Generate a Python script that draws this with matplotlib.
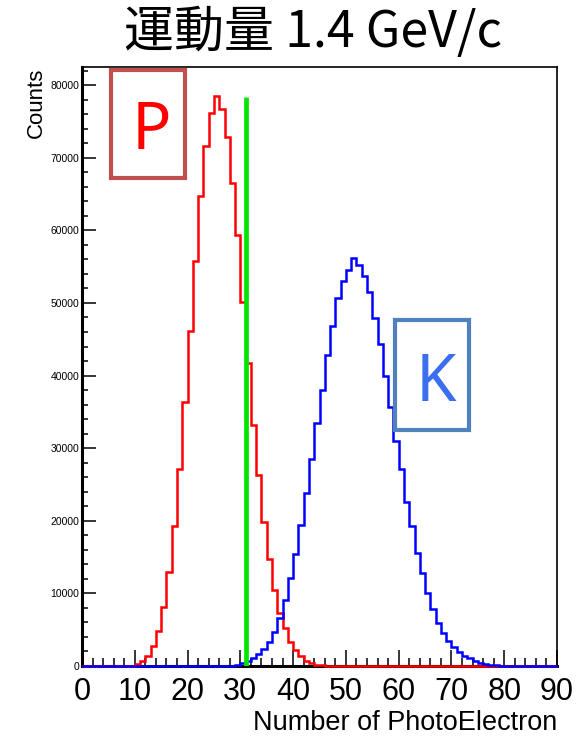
import numpy as np
import matplotlib.pyplot as plt
from matplotlib.patches import Rectangle
from matplotlib.ticker import MultipleLocator

plt.rcParams['font.family'] = ['Liberation Sans', 'DejaVu Sans']

# histogram bins: width 1, counts
red_start = 10
red_counts = [280, 690, 1380, 2750, 4870, 8170, 12900, 19330, 27100, 36400,
              46200, 55800, 64700, 71600, 76100, 78500, 76700, 72900, 66500, 59300,
              50100, 41700, 33200, 26300, 19900, 14800, 10500, 7250, 5190, 3350,
              2200, 1380, 730, 370, 170, 80, 30]
blue_start = 28
blue_counts = [50, 150, 350, 690, 1060, 1610, 2300, 3350, 4640, 6650,
               9090, 12080, 15430, 19420, 23870, 28510, 33430, 38020, 42840, 46830,
               50650, 53080, 54550, 56160, 55230, 53720, 51560, 47980, 44310, 39990,
               35720, 31000, 27090, 22630, 19280, 15520, 12770, 10100, 7850, 5880,
               4500, 3440, 2570, 1890, 1420, 1060, 690, 450, 280, 170,
               100, 60, 30]
cut_x = 31
cut_top = 78400

edges = np.arange(0, 91)
red = np.zeros(90)
red[red_start:red_start + len(red_counts)] = red_counts
blue = np.zeros(90)
blue[blue_start:blue_start + len(blue_counts)] = blue_counts

fig = plt.figure(figsize=(5.85, 7.36), dpi=100)
ax = fig.add_axes([82/585, 1 - 666/736, 475/585, 599/736])

ax.stairs(red, edges, baseline=None, color='#ff0000', lw=1.8, zorder=3, clip_on=False)
ax.stairs(blue, edges, baseline=None, color='#0000ff', lw=1.8, zorder=3, clip_on=False)
ax.vlines(cut_x, 0, cut_top, color='#00e600', lw=3.4, zorder=4)

ax.set_xlim(0, 90)
ax.set_ylim(0, 82500)
ax.xaxis.set_major_locator(MultipleLocator(10))
ax.xaxis.set_minor_locator(MultipleLocator(2))
ax.yaxis.set_major_locator(MultipleLocator(10000))
ax.yaxis.set_minor_locator(MultipleLocator(2000))
ax.tick_params(which='both', direction='in', top=False, right=False, color='black')
ax.tick_params(axis='x', which='major', length=11.5, width=1.1, labelsize=22, pad=8)
ax.tick_params(axis='x', which='minor', length=6, width=1.1)
ax.tick_params(axis='y', which='major', length=10, width=1.1, labelsize=7.5, pad=2)
ax.tick_params(axis='y', which='minor', length=4.5, width=1.1)
for s in ['left', 'bottom']:
    ax.spines[s].set_linewidth(2.2)
for s in ['top', 'right']:
    ax.spines[s].set_linewidth(1.2)

fig.text(36/585, 1 - 68/736, 'Counts', rotation=90, ha='center', va='top', fontsize=16)
fig.text(557/585, 1 - 730/736, 'Number of PhotoElectron', ha='right', va='baseline', fontsize=19.5)
fig.text(313/585, 1 - 33/736, '運動量 1.4 GeV/c', ha='center', va='center', fontsize=36,
         family=['Noto Sans CJK JP', 'DejaVu Sans'])

# particle labels
ax.add_patch(Rectangle((0.0617, 0.8155), 0.1558, 0.179, transform=ax.transAxes,
                       fill=True, fc='white', ec='#c0504d', lw=3, zorder=5, clip_on=False))
ax.text(0.1453, 0.8626, 'P', transform=ax.transAxes, ha='center', va='baseline',
        fontsize=47, color='#ff0000', family='Noto Sans', zorder=6)
ax.add_patch(Rectangle((0.6583, 0.394), 0.1564, 0.1831, transform=ax.transAxes,
                       fill=True, fc='white', ec='#4f81bd', lw=3, zorder=5))
ax.text(0.7453, 0.4429, 'K', transform=ax.transAxes, ha='center', va='baseline',
        fontsize=47, color='#3c6ef0', family='Noto Sans', zorder=6)

plt.savefig('out.png', dpi=100)
